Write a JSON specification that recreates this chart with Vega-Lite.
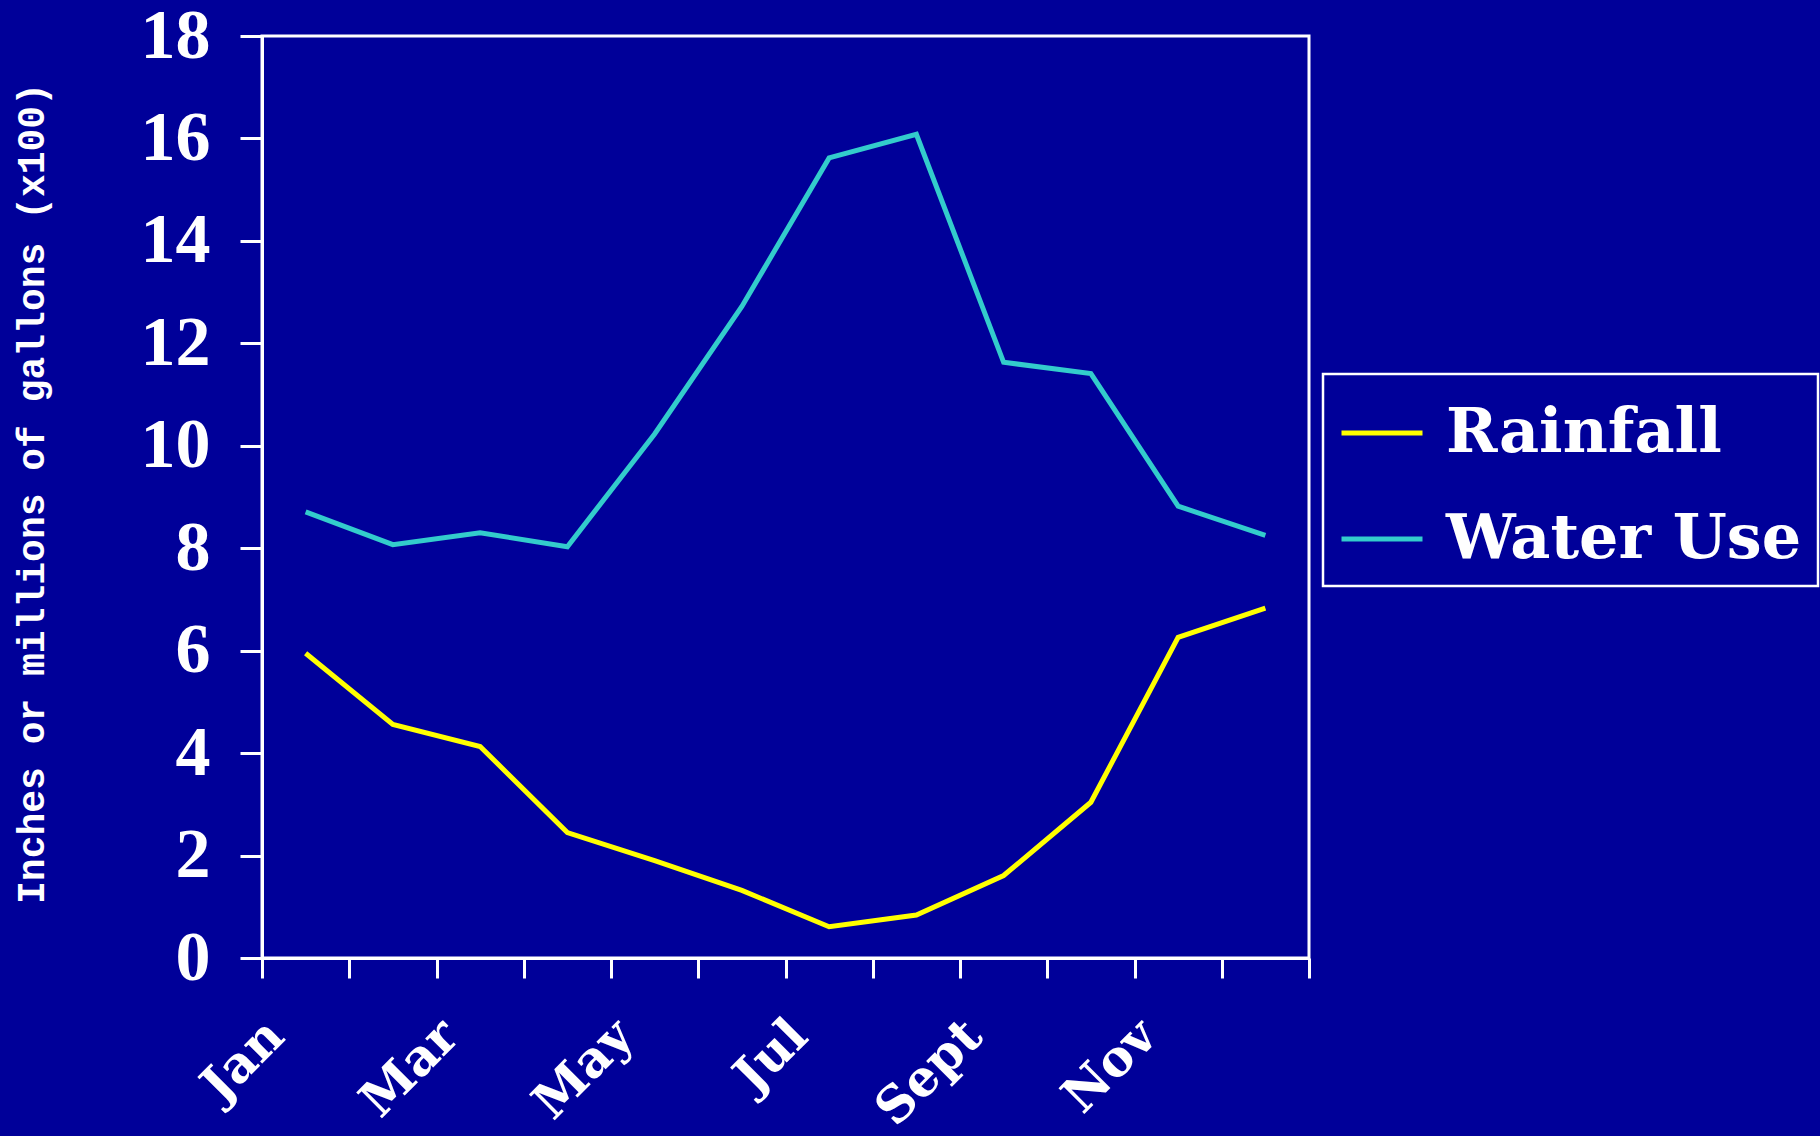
{
  "$schema": "https://vega.github.io/schema/vega-lite/v6.json",
  "width": 1047,
  "height": 922,
  "autosize": {"type": "none"},
  "padding": {"left": 262, "top": 36, "right": 511, "bottom": 178},
  "background": "#000099",
  "config": {"view": {"stroke": "white", "strokeWidth": 3}},
  "data": {
    "values": [
      {"month": "Jan", "series": "Rainfall", "value": 5.95},
      {"month": "Feb", "series": "Rainfall", "value": 4.56},
      {"month": "Mar", "series": "Rainfall", "value": 4.13},
      {"month": "Apr", "series": "Rainfall", "value": 2.45},
      {"month": "May", "series": "Rainfall", "value": 1.9},
      {"month": "Jun", "series": "Rainfall", "value": 1.32},
      {"month": "Jul", "series": "Rainfall", "value": 0.61},
      {"month": "Aug", "series": "Rainfall", "value": 0.84},
      {"month": "Sept", "series": "Rainfall", "value": 1.61},
      {"month": "Oct", "series": "Rainfall", "value": 3.04},
      {"month": "Nov", "series": "Rainfall", "value": 6.26},
      {"month": "Dec", "series": "Rainfall", "value": 6.83},
      {"month": "Jan", "series": "Water Use", "value": 8.71},
      {"month": "Feb", "series": "Water Use", "value": 8.07},
      {"month": "Mar", "series": "Water Use", "value": 8.3},
      {"month": "Apr", "series": "Water Use", "value": 8.03},
      {"month": "May", "series": "Water Use", "value": 10.23},
      {"month": "Jun", "series": "Water Use", "value": 12.72},
      {"month": "Jul", "series": "Water Use", "value": 15.62},
      {"month": "Aug", "series": "Water Use", "value": 16.08},
      {"month": "Sept", "series": "Water Use", "value": 11.63},
      {"month": "Oct", "series": "Water Use", "value": 11.41},
      {"month": "Nov", "series": "Water Use", "value": 8.82},
      {"month": "Dec", "series": "Water Use", "value": 8.25}
    ]
  },
  "mark": {"type": "line", "strokeWidth": 5},
  "encoding": {
    "x": {
      "field": "month",
      "type": "nominal",
      "sort": ["Jan", "Feb", "Mar", "Apr", "May", "Jun", "Jul", "Aug", "Sept", "Oct", "Nov", "Dec"],
      "scale": {"type": "band", "paddingInner": 0, "paddingOuter": 0},
      "axis": {
        "title": null,
        "grid": false,
        "domainColor": "white",
        "domainWidth": 3,
        "tickColor": "white",
        "tickWidth": 3,
        "tickSize": 20,
        "tickBand": "extent",
        "labelAngle": -45,
        "labelAlign": "right",
        "labelBaseline": "middle",
        "labelFont": "DejaVu Serif",
        "labelFontWeight": "bold",
        "labelFontSize": 50,
        "labelColor": "white",
        "labelPadding": 50,
        "labelOffset": -30,
        "labelOverlap": false,
        "labelBound": false,
        "labelFlush": false,
        "labelExpr": "indexof(['Jan','Mar','May','Jul','Sept','Nov'], datum.value) >= 0 ? datum.value : ''"
      }
    },
    "y": {
      "field": "value",
      "type": "quantitative",
      "scale": {"domain": [0, 18], "nice": false},
      "axis": {
        "title": "Inches or millions of gallons (x100)",
        "titleFont": "Liberation Mono",
        "titleFontWeight": "bold",
        "titleFontSize": 38,
        "titleColor": "white",
        "titleAngle": -90,
        "titleX": -230,
        "titleY": 457,
        "titleAlign": "center",
        "titleBaseline": "middle",
        "values": [0, 2, 4, 6, 8, 10, 12, 14, 16, 18],
        "grid": false,
        "domainColor": "white",
        "domainWidth": 3,
        "tickColor": "white",
        "tickWidth": 3,
        "tickSize": 22,
        "labelFont": "Liberation Serif",
        "labelFontWeight": "bold",
        "labelFontSize": 70,
        "labelColor": "white",
        "labelPadding": 30,
        "labelFlush": false,
        "labelOverlap": false
      }
    },
    "color": {
      "field": "series",
      "type": "nominal",
      "scale": {"domain": ["Rainfall", "Water Use"], "range": ["#FFFF00", "#33CCCC"]},
      "legend": {
        "title": null,
        "orient": "none",
        "legendX": 1061,
        "legendY": 338,
        "symbolType": "stroke",
        "symbolSize": 6561,
        "symbolStrokeWidth": 5,
        "labelFont": "DejaVu Serif",
        "labelFontWeight": "bold",
        "labelFontSize": 62,
        "labelColor": "white",
        "labelOffset": 21,
        "labelLimit": 0,
        "padding": 16,
        "rowPadding": 32,
        "strokeColor": "white",
        "fillColor": "#000099",
        "encode": {"legend": {"update": {"strokeWidth": {"value": 2.5}}}}
      }
    }
  }
}
